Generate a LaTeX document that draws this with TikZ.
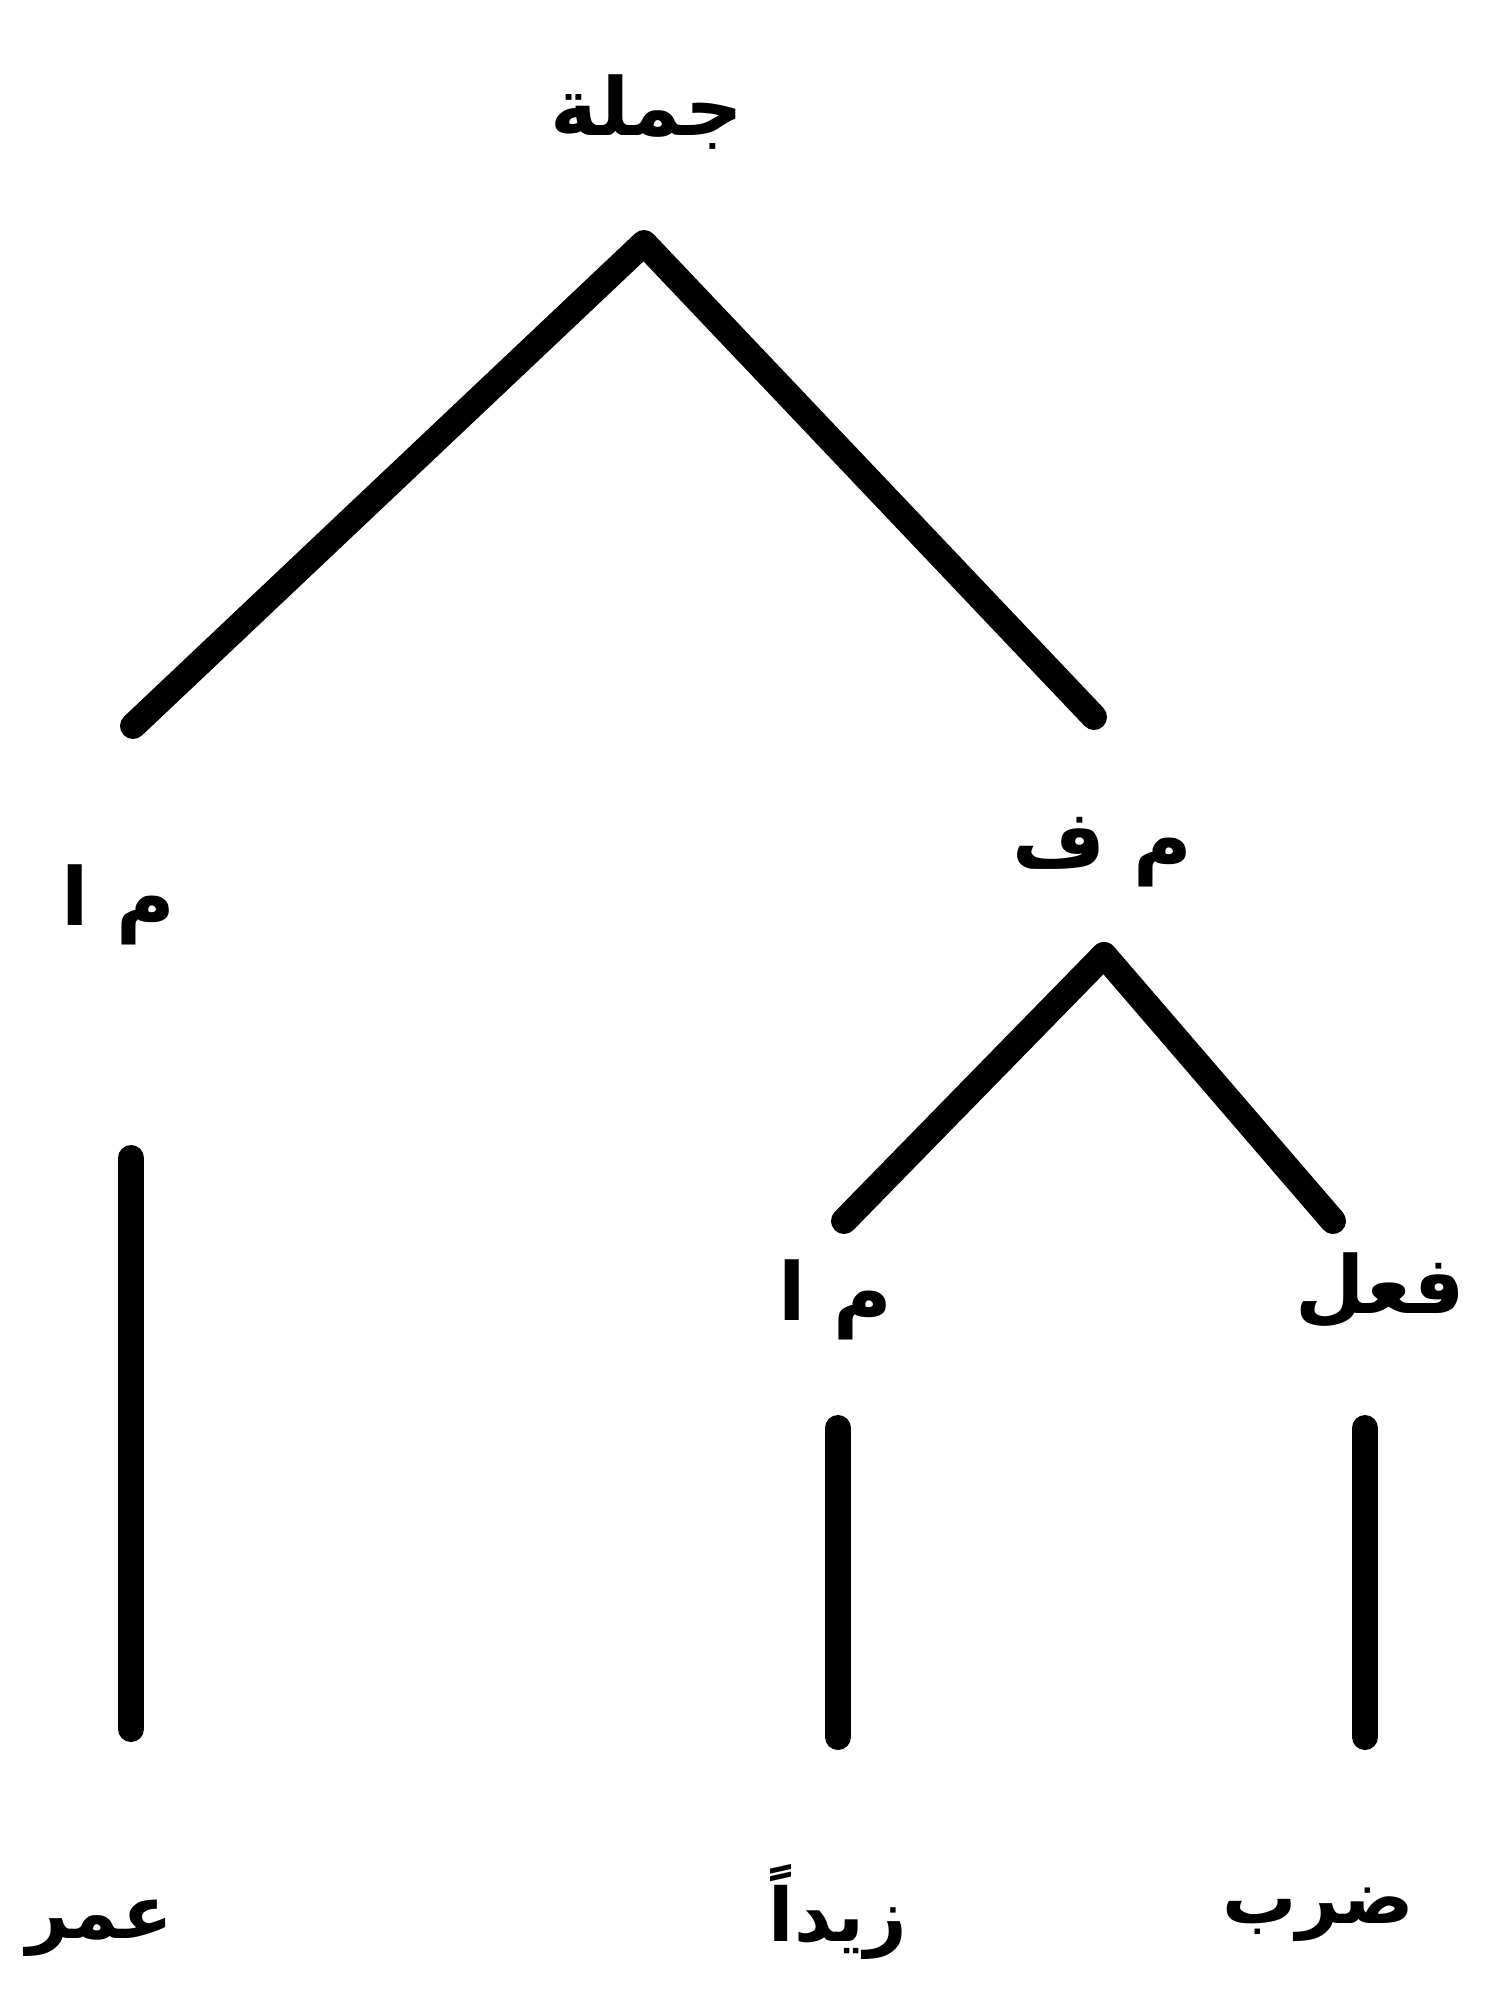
\documentclass[tikz,border=0pt]{standalone}
\usepackage{fontspec}
\TeXXeTstate=1
\newfontfamily\arabicfont[Script=Arabic]{DejaVu Sans}
\begin{document}
\begin{tikzpicture}[x=0.5pt,y=-0.5pt,
  branch/.style={line width=13pt,line cap=round,line join=round},
  lbl/.style={inner sep=0pt,font=\arabicfont\bfseries\fontsize{40}{48}\selectfont},
  word/.style={inner sep=0pt,font=\arabicfont\bfseries\fontsize{37}{44}\selectfont}]
\useasboundingbox (0,0) rectangle (1508,1990);
% labels
\node[lbl] (root) at (647,112) {\beginR جملة\endR};
\node[lbl] (mf) at (1102,852) {\beginR م ف\endR};
\node[lbl] (ma1) at (118,905) {\beginR م ا\endR};
\node[lbl] (ma2) at (835,1300) {\beginR م ا\endR};
\node[lbl] (fil) at (1380,1290) {\beginR فعل\endR};
\node[word] (w1) at (100,1928) {\beginR عمر\endR};
\node[word] (w2) at (838,1912) {\beginR زيداً\endR};
\node[word] (w3) at (1318,1915) {\beginR ضرب\endR};
% branch points
\coordinate (a1) at (644,243);
\coordinate (l1) at (133,726);
\coordinate (r1) at (1094,717);
\coordinate (a2) at (1104,955);
\coordinate (l2) at (844,1221);
\coordinate (r2) at (1333,1221);
\coordinate (v1t) at (131,1158);
\coordinate (v1b) at (131,1729);
\coordinate (v2t) at (838,1428);
\coordinate (v2b) at (838,1737);
\coordinate (v3t) at (1365,1428);
\coordinate (v3b) at (1365,1737);
% connectors
\draw[branch] (l1) -- (a1) -- (r1);
\draw[branch] (l2) -- (a2) -- (r2);
\draw[branch] (v1t) -- (v1b);
\draw[branch] (v2t) -- (v2b);
\draw[branch] (v3t) -- (v3b);
\end{tikzpicture}
\end{document}
